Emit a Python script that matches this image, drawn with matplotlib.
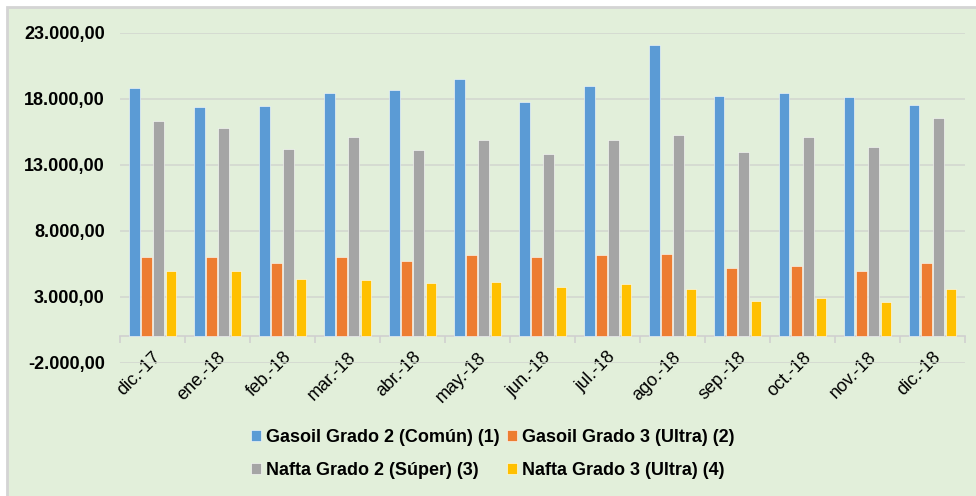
import matplotlib.pyplot as plt
import numpy as np
from matplotlib.patches import Rectangle
from matplotlib.ticker import FuncFormatter

months = ["dic.-17", "ene.-18", "feb.-18", "mar.-18", "abr.-18", "may.-18", "jun.-18",
          "jul.-18", "ago.-18", "sep.-18", "oct.-18", "nov.-18", "dic.-18"]
gasoil_g2 = [18810, 17420, 17500, 18460, 18700, 19540, 17800, 18960, 22090, 18230, 18480, 18150, 17570]
gasoil_g3 = [6050, 5980, 5560, 6050, 5730, 6160, 5980, 6160, 6230, 5170, 5350, 4920, 5580]
nafta_g2 = [16330, 15780, 14200, 15100, 14110, 14870, 13860, 14870, 15270, 13960, 15120, 14360, 16580]
nafta_g3 = [4920, 4990, 4340, 4240, 4010, 4090, 3760, 3930, 3610, 2700, 2870, 2620, 3610]
labels = ["Gasoil Grado 2 (Común) (1)", "Gasoil Grado 3 (Ultra) (2)",
          "Nafta Grado 2 (Súper) (3)", "Nafta Grado 3 (Ultra) (4)"]

colors = ["#5B9BD5", "#ED7D31", "#A5A5A5", "#FFC000"]
bg = "#E2EFDA"

plt.rcParams['font.family'] = ['Liberation Sans', 'DejaVu Sans']

fig = plt.figure(figsize=(9.76, 4.96), dpi=100)
fig.patch.set_facecolor("white")
fig.patches.append(Rectangle((7 / 976, -0.05), 1.1, 1.05 - 7 / 496, transform=fig.transFigure,
                             facecolor=bg, edgecolor="#d4d4d4", linewidth=2, zorder=-1))

ax = fig.add_axes([120 / 976, 1 - 362.7 / 496, 845 / 976, (362.7 - 33) / 496])
ax.set_facecolor("none")

x = np.arange(len(months))
series = [gasoil_g2, gasoil_g3, nafta_g2, nafta_g3]
bars = []
for i, vals in enumerate(series):
    b = ax.bar(x + (i - 1.5) * 0.185, vals, width=0.155, color=colors[i],
               edgecolor="white", linewidth=0.4, zorder=3, label=labels[i])
    bars.append(b)

ax.set_xlim(-0.5, len(months) - 0.5)
ax.set_ylim(-2000, 23000)
ax.set_yticks(np.arange(-2000, 23001, 5000))
ax.yaxis.set_major_formatter(FuncFormatter(
    lambda v, p: "{:,.2f}".format(v).replace(",", "X").replace(".", ",").replace("X", ".")))
ax.grid(axis="y", color="#d3d8d0", linewidth=1.2, zorder=0)
ax.tick_params(axis="y", length=0, pad=11, labelsize=13)
for t in ax.get_yticklabels():
    t.set_fontweight("bold")

for s in ["top", "right", "left"]:
    ax.spines[s].set_visible(False)
ax.spines["bottom"].set_position(("data", 0))
ax.spines["bottom"].set_color("#d0d0d0")
ax.spines["bottom"].set_linewidth(1.2)
ax.set_xticks(x)
ax.set_xticks(np.arange(-0.5, len(months)), minor=True)
ax.set_xticklabels(months, rotation=45, ha="right", rotation_mode="anchor", fontsize=13)
ax.tick_params(axis="x", which="major", length=0, pad=9)
ax.tick_params(axis="x", which="minor", length=5, width=1.2, color="#d0d0d0")

handles = [bars[0], bars[2], bars[1], bars[3]]
leg_labels = [labels[0], labels[2], labels[1], labels[3]]
fig.legend(handles, leg_labels, ncol=2, loc="center", bbox_to_anchor=(0.505, 0.085),
           frameon=False, handlelength=0.55, handleheight=0.55, handletextpad=0.3,
           columnspacing=0.4, labelspacing=0.85,
           prop={"family": "Liberation Sans", "weight": "bold", "size": 13})

fig.savefig("out.png", dpi=100, facecolor=fig.get_facecolor())
